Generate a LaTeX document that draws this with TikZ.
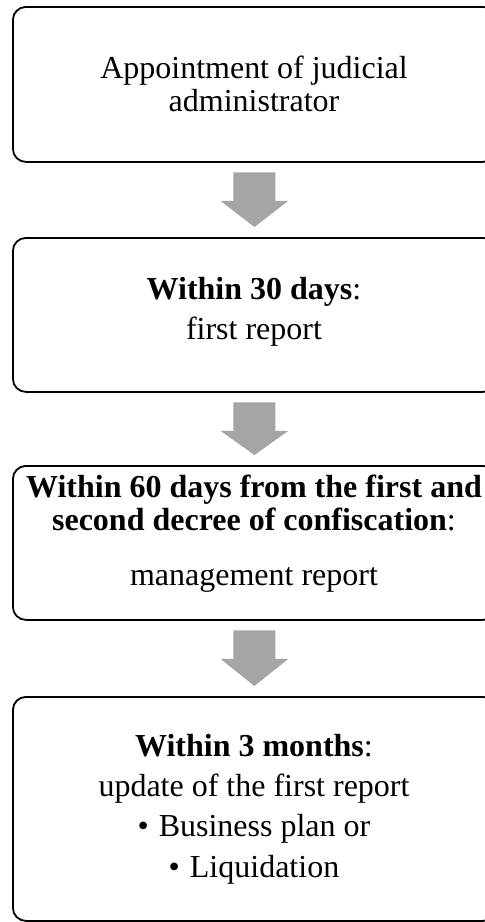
\documentclass[tikz,border=0pt]{standalone}
\usepackage{fontspec}
\setmainfont{Liberation Serif}
\usetikzlibrary{calc}
\definecolor{arrowgray}{HTML}{A5A5A5}
\newcommand\flowarrow[2]{%
  \fill[flow] ($(#1.south)+(-21,9.5)$) -- ($(#1.south)+(21,9.5)$)
    -- ($(#1.south)+(21,38)$) -- ($(#1.south)+(34,38)$)
    -- ($(#2.north)+(0,-10)$)
    -- ($(#1.south)+(-34,38)$) -- ($(#1.south)+(-21,38)$) -- cycle;}
\begin{document}
\begin{tikzpicture}[x=1pt,y=-1pt,
  box/.style={draw=black,line width=1.8pt,rounded corners=13pt,minimum width=483pt,anchor=north west,inner sep=0pt},
  txt/.style={anchor=base,inner sep=0pt,font=\fontsize{32}{33}\selectfont},
  flow/.style={fill=arrowgray}]
\useasboundingbox (0,0) rectangle (485,922);
\clip (0,0) rectangle (485,922);
\fill[white] (0,0) rectangle (485,922);

\node[box,minimum height=155pt] (b1) at (12,6) {};
\node[box,minimum height=154pt] (b2) at (12,237) {};
\node[box,minimum height=154pt] (b3) at (12,465) {};
\node[box,minimum height=224pt] (b4) at (12,696) {};

\node[txt] (t1a) at (254,78) {Appointment of judicial};
\node[txt] (t1b) at (254,111) {administrator};

\node[txt] (t2a) at (254,299) {\textbf{Within 30 days}:};
\node[txt] (t2b) at (254,339) {first report};

\node[txt] (t3a) at (254,497) {\textbf{Within 60 days from the first and}};
\node[txt] (t3b) at (254,530) {\textbf{second decree of confiscation}:};
\node[txt] (t3c) at (254,585) {management report};

\node[txt] (t4a) at (254,756) {\textbf{Within 3 months}:};
\node[txt] (t4b) at (254,796) {update of the first report};
\node[txt] (t4c) at (254,836) {•\hspace{10pt}Business plan or};
\node[txt] (t4d) at (254,877) {•\hspace{10pt}Liquidation};

\flowarrow{b1}{b2}
\flowarrow{b2}{b3}
\flowarrow{b3}{b4}
\end{tikzpicture}
\end{document}
